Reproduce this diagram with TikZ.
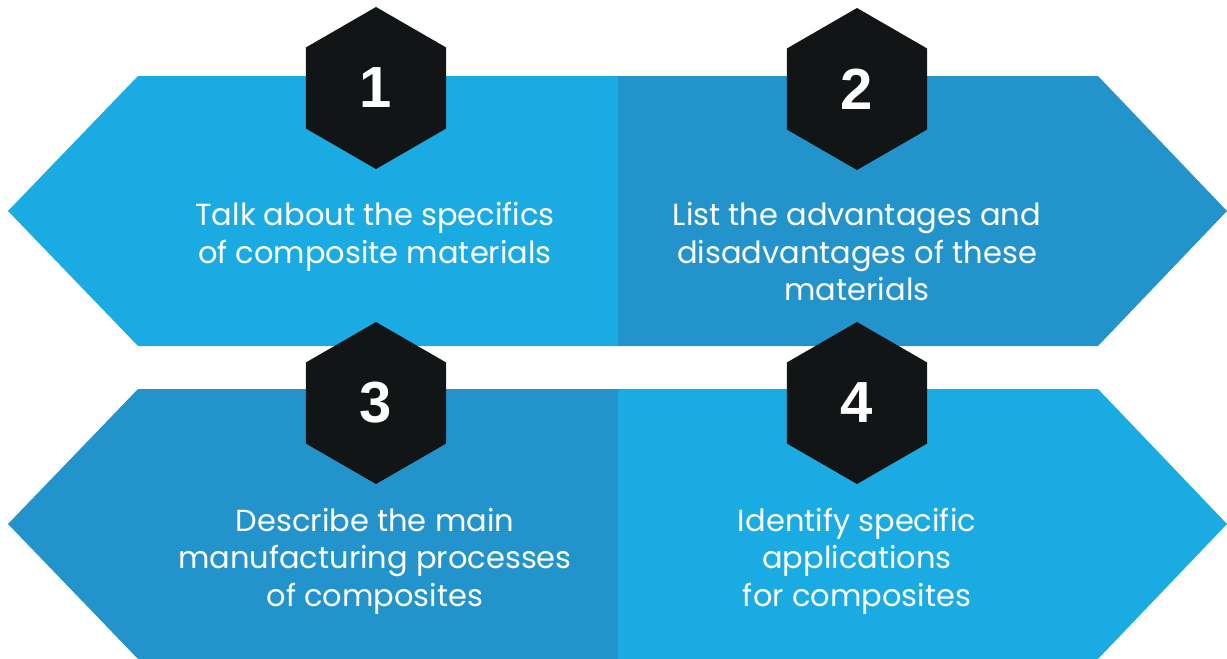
\documentclass[tikz,border=0pt]{standalone}
\usepackage{fontspec}
\setmainfont{Poppins}
\newfontfamily\numfont{Liberation Sans}
\usetikzlibrary{shapes.geometric}
\definecolor{lightblue}{HTML}{19ABE1}
\definecolor{darkblue}{HTML}{2394CB}
\definecolor{hexblack}{HTML}{111516}
\tikzset{
  hexa/.style={regular polygon,regular polygon sides=6,shape border rotate=30,
    minimum size=162pt,inner sep=0pt,fill=hexblack,text=white,
    font=\numfont\bfseries\fontsize{58}{58}\selectfont},
  goal/.style={align=center,text=white,font=\fontsize{30.5}{37.5}\selectfont}
}
\begin{document}
\begin{tikzpicture}[x=1pt,y=-1pt]
    \useasboundingbox (0,0) rectangle (1227,659);
    % corners of the two bands
    \coordinate (TL) at (8,211);
    \coordinate (TR) at (1227,211);
    \coordinate (BL) at (8,524);
    \coordinate (BR) at (1227,524);
    % upper band
    \fill[lightblue] (TL)--(138,76)--(618,76)--(618,346)--(138,346)--cycle;
    \fill[darkblue] (618,76)--(1098,76)--(TR)--(1098,346)--(618,346)--cycle;
    % lower band
    \fill[darkblue] (BL)--(138,389)--(618,389)--(618,659)--(138,659)--cycle;
    \fill[lightblue] (618,389)--(1098,389)--(BR)--(1098,659)--(618,659)--cycle;
    % numbered hexagons
    \foreach \n/\x/\y in {1/376/88,2/857/89,3/376/403,4/857/403}
        \node[hexa] (h\n) at (\x,\y) {\n};
    \node[goal] (t1) at (375,237) {Talk about the specifics\\of composite materials};
    \node[goal] (t2) at (857,252) {List the advantages and\\disadvantages of these\\materials};
    \node[goal] (t3) at (375,561) {Describe the main\\manufacturing processes\\of composites};
    \node[goal] (t4) at (857,561) {Identify specific\\applications\\for composites};
\end{tikzpicture}
\end{document}
